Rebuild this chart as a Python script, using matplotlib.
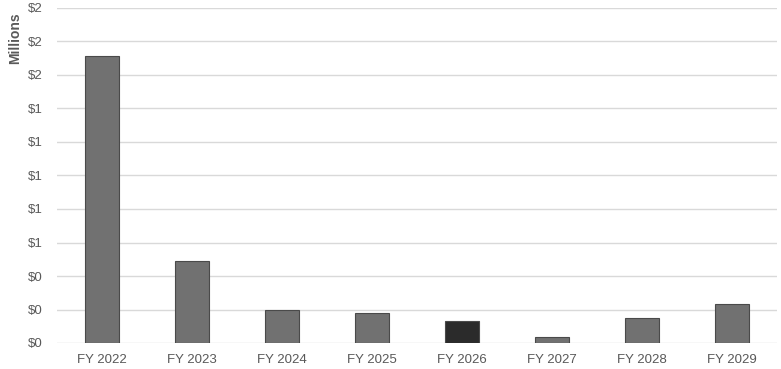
import matplotlib
matplotlib.use("Agg")
import matplotlib.pyplot as plt
from matplotlib.ticker import FuncFormatter

plt.rcParams['font.family'] = ['Liberation Sans', 'DejaVu Sans']

categories = ["FY 2022", "FY 2023", "FY 2024", "FY 2025", "FY 2026", "FY 2027", "FY 2028", "FY 2029"]
values = [1.713, 0.49, 0.198, 0.181, 0.133, 0.034, 0.149, 0.231]
bar_colors = ["#717171"] * 4 + ["#2b2b2b"] + ["#717171"] * 3
y_ticks = [0.0, 0.2, 0.4, 0.6, 0.8, 1.0, 1.2, 1.4, 1.6, 1.8, 2.0]

W, H = 781, 369
fig = plt.figure(figsize=(W / 100, H / 100), dpi=100)
ax = fig.add_axes([57 / W, 26 / H, (777 - 57) / W, (343 - 8) / H])

x = range(len(categories))
ax.bar(x, values, width=0.38, color=bar_colors, edgecolor="#4a4a4a", linewidth=0.8, zorder=3)

ax.set_xlim(-0.5, len(categories) - 0.5)
ax.set_ylim(0, 2.0)
ax.set_yticks(y_ticks)
ax.yaxis.set_major_formatter(FuncFormatter(lambda v, p: f"${v:.0f}"))
ax.set_xticks(list(x))
ax.set_xticklabels(categories)

ax.grid(axis="y", color="#d9d9d9", linewidth=1.0, zorder=0)
for s in ax.spines.values():
    s.set_visible(False)
ax.tick_params(axis="both", length=0, labelsize=9.5, labelcolor="#595959")
ax.tick_params(axis="x", pad=8)
ax.tick_params(axis="y", pad=10)

fig.text(15 / W, 1 - 38 / H, "Millions", rotation=90, ha="center", va="center",
         fontsize=10, fontweight="bold", color="#595959")

fig.savefig("out.png", dpi=100)
